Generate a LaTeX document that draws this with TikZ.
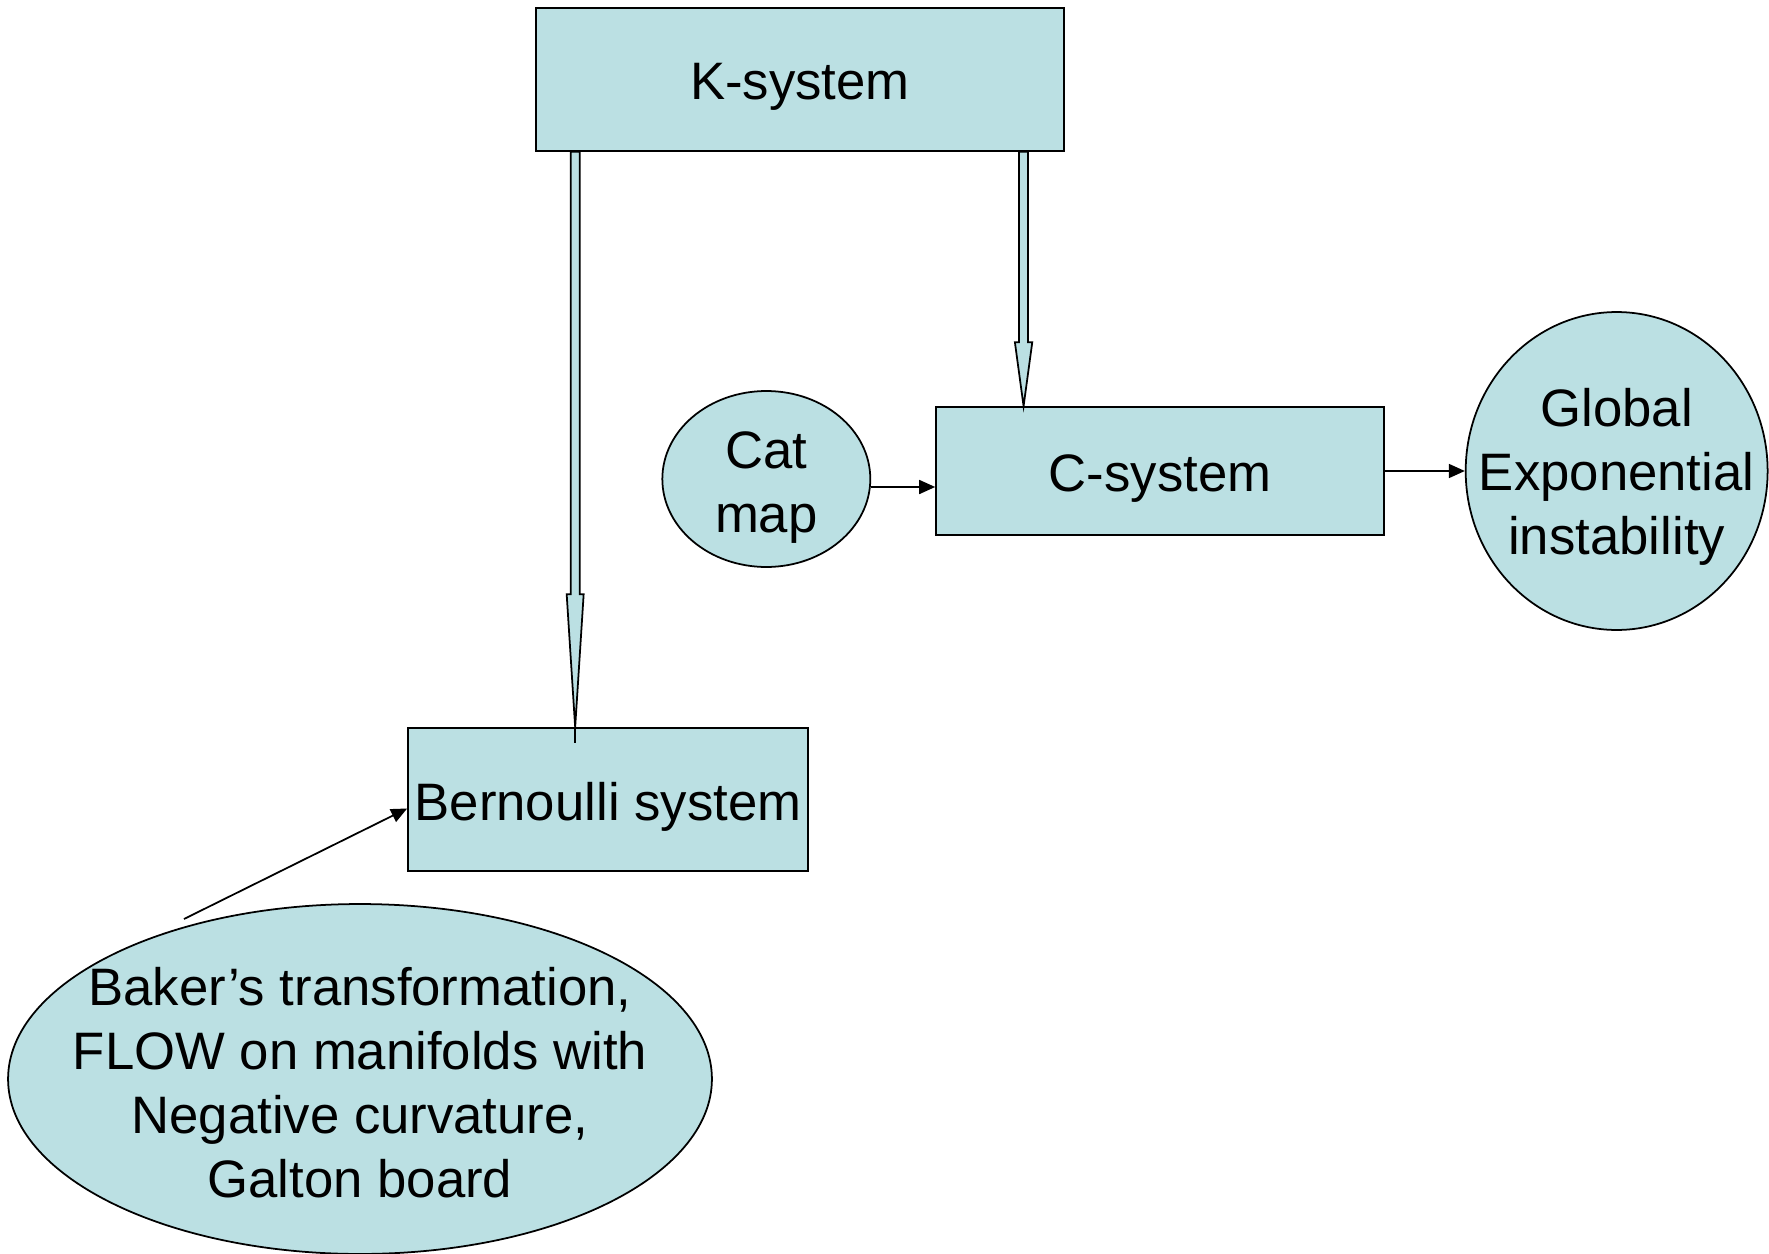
\documentclass[tikz,border=0pt]{standalone}
\usepackage{fontspec}
\setmainfont{Liberation Sans}
\usetikzlibrary{shapes.geometric,arrows.meta,calc,positioning}
\definecolor{boxfill}{RGB}{187,224,227}

\begin{document}
\begin{tikzpicture}[x=0.02cm, y=-0.02cm,
        box/.style={rectangle, draw, fill=boxfill, line width=1pt, inner sep=0pt,
            text height=1.04cm, text depth=0.22cm,
            font=\fontsize{30}{36.4}\selectfont, align=center},
        blob/.style={ellipse, draw, fill=boxfill, line width=1pt, inner sep=0pt},
        blobtext/.style={font=\fontsize{30}{36.4}\selectfont, align=center},
        fatarrow/.style={draw, fill=boxfill, line width=1pt},
        arr/.style={-{Triangle[length=0.32cm, width=0.28cm]}, line width=1pt}]
        \useasboundingbox (0,0) rectangle (1769,1254);

        \node[box, minimum width=10.56cm, minimum height=2.86cm] (K) at (800,79.5) {K-system};
        \node[box, minimum width=8.96cm, minimum height=2.56cm] (C) at (1160,471) {C-system};
        \node[box, minimum width=8cm, minimum height=2.86cm] (bern) at (608,799.5) {Bernoulli system};

        \node[blob, minimum width=4.16cm, minimum height=3.52cm,
            label={[blobtext, yshift=-0.18cm]center:Cat\\map}] (cat) [left=1.28cm of C, yshift=-0.16cm] {};
        \node[blob, minimum width=6.04cm, minimum height=6.36cm,
            label={[blobtext, yshift=-0.11cm]center:Global\\Exponential\\instability}] (glob) [right=1.6cm of C] {};
        \node[blob, minimum width=14.08cm, minimum height=7cm,
            label={[blobtext, yshift=-0.07cm]center:Baker’s transformation,\\FLOW on manifolds with\\Negative curvature,\\Galton board}] (baker) at (360,1079) {};

        % hollow arrows out of the K-system
        \coordinate (ka) at ([xshift=0.8cm]K.south west);
        \coordinate (kb) at (ka |- bern.north);
        \draw[fatarrow] ($(ka)+(-4.5,0)$) -- ($(kb)+(-4.5,-133)$) -- ($(kb)+(-8.5,-133)$) -- (kb)
            -- ($(kb)+(8.5,-133)$) -- ($(kb)+(4.5,-133)$) -- ($(ka)+(4.5,0)$) -- cycle;
        \draw[line width=1pt] (kb) -- ++(0,16);

        \coordinate (kc) at ([xshift=9.77cm]K.south west);
        \coordinate (kd) at (kc |- C.north);
        \draw[fatarrow] ($(kc)+(-4.5,0)$) -- ($(kd)+(-4.5,-64)$) -- ($(kd)+(-8.7,-64)$) -- (kd)
            -- ($(kd)+(8.7,-64)$) -- ($(kd)+(4.5,-64)$) -- ($(kc)+(4.5,0)$) -- cycle;

        \draw[arr] ([yshift=-0.16cm]cat.east) -- ([yshift=-0.16cm]cat.east -| C.west);
        \draw[arr] (C.east) -- (glob);

        \coordinate (bakertop) at (184,919);
        \draw[arr] (bakertop) -- ([yshift=-0.18cm]bern.west);
    \end{tikzpicture}
\end{document}
